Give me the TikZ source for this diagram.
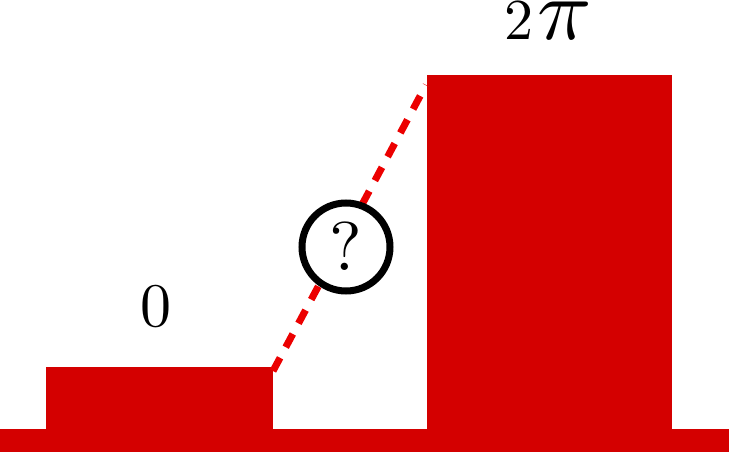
\documentclass[tikz,border=0pt]{standalone}
\definecolor{blockred}{RGB}{212,0,0}
\definecolor{dashred}{RGB}{236,0,0}
\newcommand{\bigtxt}[2]{\scalebox{#1}{#2}}
\begin{document}
\begin{tikzpicture}[x=1pt,y=-1pt,
  block/.style={fill=blockred,draw=none},
  dashline/.style={draw=dashred,line width=7pt,dash pattern=on 15pt off 12pt},
  qcircle/.style={circle,draw=black,fill=white,line width=7pt,minimum size=88pt,inner sep=0pt},
  lbl/.style={inner sep=0pt,anchor=base}]
\useasboundingbox (0,0) rectangle (729,452);
\fill[blockred] (0,429) rectangle (729,452);
\fill[blockred] (46,367) rectangle (273,429);
\fill[blockred] (427,75) rectangle (672,429);
\coordinate (p1) at (273,371);
\coordinate (p2) at (426,85);
\draw[dashline] (p1) -- (p2);
\node[qcircle] (q) at (346,247) {};
\node[lbl] (qm) at (346,270) {\bigtxt{6.9}{?}};
\node[lbl] (zero) at (156,326) {\bigtxt{6.2}{$0$}};
\node[lbl,anchor=base west] (twopi) at (504,40) {\bigtxt{5.8}{$2$}\hspace{4pt}\bigtxt{5.8}{\scalebox{1.55}[1.5]{$\pi$}}};
\end{tikzpicture}
\end{document}
